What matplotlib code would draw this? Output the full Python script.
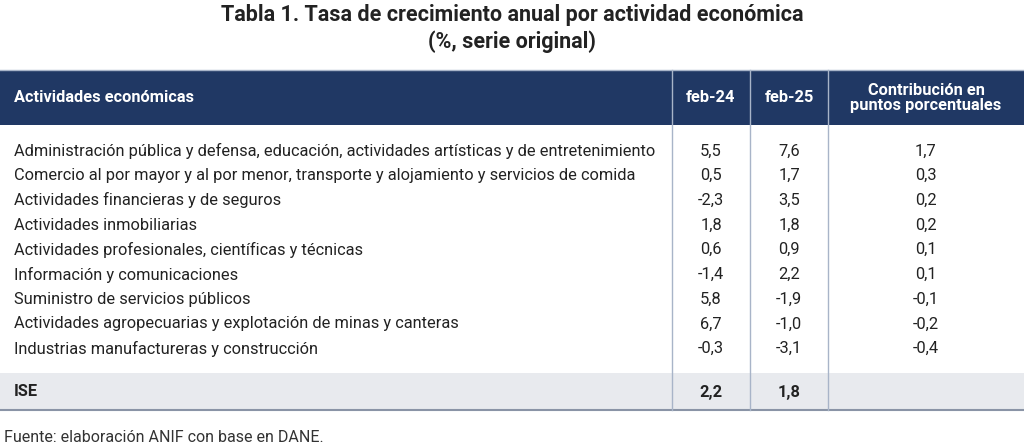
import matplotlib
matplotlib.use('Agg')
from matplotlib import pyplot as plt

actividades = [
    'Administración pública y defensa, educación, actividades artísticas y de entretenimiento',
    'Comercio al por mayor y al por menor, transporte y alojamiento y servicios de comida',
    'Actividades financieras y de seguros',
    'Actividades inmobiliarias',
    'Actividades profesionales, científicas y técnicas',
    'Información y comunicaciones',
    'Suministro de servicios públicos',
    'Actividades agropecuarias y explotación de minas y canteras',
    'Industrias manufactureras y construcción',
]
feb24 = [5.5, 0.5, -2.3, 1.8, 0.6, -1.4, 5.8, 6.7, -0.3]
feb25 = [7.6, 1.7, 3.5, 1.8, 0.9, 2.2, -1.9, -1.0, -3.1]
contrib = [1.7, 0.3, 0.2, 0.2, 0.1, 0.1, -0.1, -0.2, -0.4]
ise = (2.2, 1.8)

def fmt(v):
    return f'{v:.1f}'.replace('.', ',')

plt.rcParams['font.family'] = ['Roboto', 'DejaVu Sans']
fig = plt.figure(figsize=(10.24, 4.46), dpi=100)
ax = fig.add_axes([0, 0, 1, 1])
ax.set_xlim(0, 1024)
ax.set_ylim(446, 0)
ax.axis('off')

navy = '#203864'
sep = '#a8b4c8'
cols = [672, 750, 828, 1024]
centers = [711, 789, 926]
fs = 11.8
txt = '#222222'

ax.text(512, 15, 'Tabla 1. Tasa de crecimiento anual por actividad económica',
        ha='center', va='center', fontsize=15.5, fontweight='bold', color=txt)
ax.text(512, 42, '(%, serie original)', ha='center', va='center',
        fontsize=15.5, fontweight='bold', color=txt)

# header band
ax.add_patch(plt.Rectangle((0, 70), 1024, 55, color=navy, lw=0))
ax.plot([0, 1024], [70, 70], color=sep, lw=1)
ax.text(14, 98, 'Actividades económicas', ha='left', va='center',
        fontsize=fs, fontweight='bold', color='white')
ax.text(centers[0], 98, 'feb-24', ha='center', va='center', fontsize=fs, fontweight='bold', color='white')
ax.text(centers[1], 98, 'feb-25', ha='center', va='center', fontsize=fs, fontweight='bold', color='white')
ax.text(centers[2], 98, 'Contribución en\npuntos porcentuales', ha='center', va='center',
        fontsize=fs, fontweight='bold', color='white', linespacing=1.05)

# rows
y0, dy = 151, 24.7
for i, name in enumerate(actividades):
    y = y0 + i * dy
    ax.text(14, y, name, ha='left', va='center', fontsize=fs, color=txt)
    for c, v in zip(centers, (feb24[i], feb25[i], contrib[i])):
        ax.text(c, y, fmt(v), ha='center', va='center', fontsize=fs, color=txt)

# ISE band
ax.add_patch(plt.Rectangle((0, 373), 1024, 37, color='#e8eaee', lw=0))
ax.plot([0, 1024], [410, 410], color='#8a94a6', lw=1.5)
ax.text(14, 392, 'ISE', ha='left', va='center', fontsize=fs, fontweight='bold', color=txt)
ax.text(centers[0], 392, fmt(ise[0]), ha='center', va='center', fontsize=fs, fontweight='bold', color=txt)
ax.text(centers[1], 392, fmt(ise[1]), ha='center', va='center', fontsize=fs, fontweight='bold', color=txt)

for x in cols[:3]:
    ax.plot([x, x], [70, 410], color=sep, lw=1)

ax.text(4, 437, 'Fuente: elaboración ANIF con base en DANE.', ha='left', va='center',
        fontsize=11.5, color='#333333')

fig.savefig('out.png', dpi=100)
